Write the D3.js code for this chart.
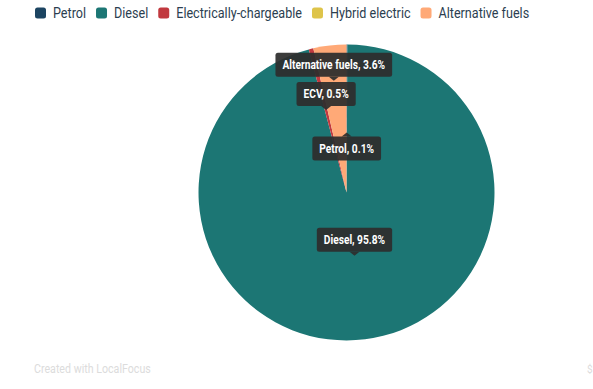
<!DOCTYPE html>
<html><head><meta charset="utf-8">
<script src="https://cdn.jsdelivr.net/npm/d3@7"></script>
<style>
html,body{margin:0;padding:0;background:#fff;}
svg{display:block;}
text{font-family:Roboto, "Noto Sans", sans-serif;}
</style></head>
<body><svg id="c" width="593" height="389"></svg>
<script>
const categories = ["Petrol","Diesel","Electrically-chargeable","Hybrid electric","Alternative fuels"];
const labelNames = ["Petrol","Diesel","ECV","Hybrid electric","Alternative fuels"];
const shares = [0.1, 95.8, 0.5, 0.0, 3.6];
const colors = ["#1c4461","#1c7674","#c1393f","#dec44a","#ffa977"];

const svg = d3.select("#c");
const W = 593, H = 389;
const cx = 346.5, cy = 192.5, R = 148;
const condense = 0.9;

// Legend
const legend = svg.append("g").attr("transform","translate(35,13)");
let lx = 0;
categories.forEach((c,i)=>{
  const g = legend.append("g").attr("transform",`translate(${lx},0)`);
  g.append("rect").attr("x",0).attr("y",-5.5).attr("width",11).attr("height",11).attr("rx",2.5).attr("fill",colors[i]);
  const t = g.append("text").attr("x",0).attr("y",5).attr("font-size",14).attr("fill","#2b3e50")
    .attr("transform",`translate(18,0) scale(${condense},1)`).text(c);
  const w = t.node().getComputedTextLength()*condense;
  lx += 18 + w + 10;
});

// Pie
const pie = d3.pie().sort(null).value(d=>d.v);
const data = pie(shares.map((v,i)=>({v, i})));
const arc = d3.arc().innerRadius(0).outerRadius(R);
const pg = svg.append("g").attr("transform",`translate(${cx},${cy})`);
pg.selectAll("path").data(data).join("path")
  .attr("d",arc).attr("fill",d=>colors[d.data.i]);

// Tooltip-style labels
const labelRadius = {0:0.405, 1:0.43, 2:0.575, 4:0.76};
const pointUp = {0:true};
const lg = pg.append("g");
data.forEach(d=>{
  const i = d.data.i;
  if (d.data.v <= 0) return;
  const a = (d.startAngle + d.endAngle)/2;
  const r = R*labelRadius[i];
  const tx = Math.sin(a)*r, ty = -Math.cos(a)*r;
  const g = lg.append("g").attr("transform",`translate(${tx},${ty})`);
  const label = `${labelNames[i]}, ${d3.format(".1f")(d.data.v)}%`;
  const bh = 24, ah = 4, aw = 5, pad = 7;
  const up = !!pointUp[i];
  const boxY = up ? ah : -ah - bh;
  const box = g.append("rect").attr("fill","rgba(45,45,45,0.93)").attr("rx",2.5);
  const arrow = g.append("path").attr("fill","rgba(45,45,45,0.93)");
  const t = g.append("text").attr("font-size",12).attr("font-weight","bold").attr("fill","#fff")
    .attr("text-anchor","middle").attr("transform",`translate(0,${boxY+bh/2+4.2}) scale(0.85,1)`).text(label);
  const tw = t.node().getComputedTextLength()*0.85;
  const bw = tw + pad*2;
  box.attr("x",-bw/2).attr("y",boxY).attr("width",bw).attr("height",bh);
  arrow.attr("d", up ? `M${-aw},${ah}L0,0L${aw},${ah}Z` : `M${-aw},${-ah}L0,0L${aw},${-ah}Z`);
});

// Footer
svg.append("text").attr("font-size",13).attr("fill","#dcdcdc")
  .attr("transform",`translate(34,373) scale(0.82,1)`).text("Created with LocalFocus");
svg.append("text").attr("font-size",10).attr("fill","#dcdcdc").attr("x",587).attr("y",373).text("$");
</script></body></html>
